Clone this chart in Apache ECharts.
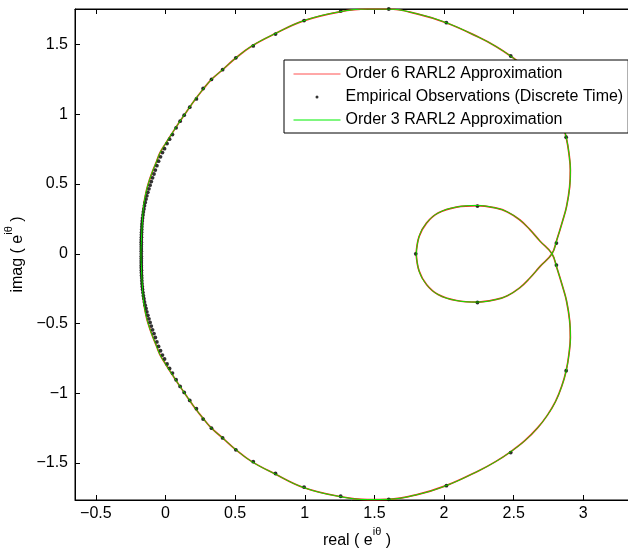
<!DOCTYPE html>
<html>
<head>
<meta charset="utf-8">
<script src="https://cdn.jsdelivr.net/npm/echarts@6/dist/echarts.min.js"></script>
<style>
  html, body { margin: 0; padding: 0; background: #fff; }
  #chart { width: 628px; height: 552px; }
</style>
</head>
<body>
<div id="chart"></div>
<script>
// tick labels
const xTicks = [-0.5, 0, 0.5, 1, 1.5, 2, 2.5, 3];
const yTicks = [-1.5, -1, -0.5, 0, 0.5, 1, 1.5];

// RARL2 approximation curve (order 6 and order 3 overlap)
const order3 = [
  [1.800, 0.000], [1.821, 0.124], [1.874, 0.220], [1.957, 0.292], [2.089, 0.335],
  [2.240, 0.346], [2.376, 0.327], [2.455, 0.300], [2.543, 0.244], [2.615, 0.175],
  [2.690, 0.090], [2.775, 0.000], [2.810, -0.100], [2.854, -0.244], [2.880, -0.340],
  [2.902, -0.480], [2.907, -0.600], [2.897, -0.720], [2.877, -0.838], [2.845, -0.950],
  [2.800, -1.060], [2.740, -1.160], [2.670, -1.250], [2.580, -1.340], [2.480, -1.418],
  [2.370, -1.490], [2.250, -1.555], [2.020, -1.660], [1.800, -1.728], [1.600, -1.760],
  [1.450, -1.762], [1.250, -1.740], [0.990, -1.675], [0.780, -1.575], [0.620, -1.490],
  [0.500, -1.400], [0.410, -1.320], [0.330, -1.250], [0.270, -1.180], [0.210, -1.103],
  [0.151, -1.019], [0.100, -0.945], [0.055, -0.876], [0.000, -0.790], [-0.041, -0.721],
  [-0.065, -0.660], [-0.089, -0.602], [-0.115, -0.530], [-0.136, -0.458], [-0.155, -0.360],
  [-0.165, -0.250], [-0.172, -0.120], [-0.176, 0.000], [-0.172, 0.120], [-0.165, 0.250],
  [-0.155, 0.360], [-0.136, 0.458], [-0.115, 0.530], [-0.089, 0.602], [-0.065, 0.660],
  [-0.041, 0.721], [0.000, 0.790], [0.055, 0.876], [0.100, 0.945], [0.151, 1.019],
  [0.210, 1.103], [0.270, 1.180], [0.330, 1.250], [0.410, 1.320], [0.500, 1.400],
  [0.620, 1.490], [0.780, 1.575], [0.990, 1.670], [1.250, 1.735], [1.450, 1.755],
  [1.600, 1.755], [1.800, 1.722], [2.020, 1.655], [2.250, 1.552], [2.370, 1.488],
  [2.480, 1.416], [2.580, 1.338], [2.670, 1.248], [2.740, 1.158], [2.800, 1.058],
  [2.845, 0.948], [2.877, 0.836], [2.897, 0.720], [2.907, 0.600], [2.902, 0.480],
  [2.880, 0.340], [2.854, 0.244], [2.810, 0.100], [2.775, 0.000], [2.690, -0.090],
  [2.615, -0.175], [2.543, -0.244], [2.455, -0.300], [2.376, -0.327], [2.240, -0.346],
  [2.089, -0.335], [1.957, -0.292], [1.874, -0.220], [1.821, -0.124], [1.800, 0.000]
];
const order6 = order3;

// empirical observations
const obsAxis = [[1.797, 0.000], [-0.174, 0.000]];
const obsUpper = [
  [2.240, 0.342], [2.807, 0.077], [2.877, 0.836], [2.479, 1.418], [2.017, 1.657],
  [1.603, 1.755], [1.258, 1.741], [0.995, 1.672], [0.790, 1.575], [0.630, 1.490],
  [0.505, 1.405], [0.410, 1.320], [0.330, 1.250], [0.270, 1.185], [0.222, 1.110],
  [0.174, 1.051], [0.134, 0.994], [0.105, 0.951], [0.076, 0.903], [0.050, 0.855],
  [0.029, 0.822], [0.011, 0.790], [-0.007, 0.754], [-0.022, 0.726], [-0.036, 0.695],
  [-0.050, 0.664], [-0.062, 0.632], [-0.073, 0.600], [-0.083, 0.572], [-0.093, 0.545],
  [-0.102, 0.518], [-0.111, 0.492], [-0.119, 0.466], [-0.127, 0.441], [-0.134, 0.416],
  [-0.140, 0.392], [-0.146, 0.368], [-0.151, 0.345], [-0.155, 0.322], [-0.159, 0.300],
  [-0.162, 0.278], [-0.165, 0.256], [-0.167, 0.235], [-0.169, 0.214], [-0.170, 0.194],
  [-0.171, 0.174], [-0.172, 0.155], [-0.173, 0.136], [-0.173, 0.118], [-0.174, 0.100],
  [-0.174, 0.083], [-0.174, 0.066], [-0.174, 0.050], [-0.174, 0.034], [-0.174, 0.018]
];
const obsLower = [
  [2.240, -0.349], [2.807, -0.081], [2.877, -0.838], [2.479, -1.425], [2.017, -1.662],
  [1.603, -1.760], [1.258, -1.738], [0.995, -1.672], [0.790, -1.575], [0.630, -1.490],
  [0.505, -1.405], [0.410, -1.320], [0.330, -1.250], [0.270, -1.185], [0.222, -1.110],
  [0.174, -1.051], [0.134, -0.994], [0.105, -0.951], [0.076, -0.903], [0.050, -0.855],
  [0.029, -0.822], [0.011, -0.790], [-0.007, -0.754], [-0.022, -0.726], [-0.036, -0.695],
  [-0.050, -0.664], [-0.062, -0.632], [-0.073, -0.600], [-0.083, -0.572], [-0.093, -0.545],
  [-0.102, -0.518], [-0.111, -0.492], [-0.119, -0.466], [-0.127, -0.441], [-0.134, -0.416],
  [-0.140, -0.392], [-0.146, -0.368], [-0.151, -0.345], [-0.155, -0.322], [-0.159, -0.300],
  [-0.162, -0.278], [-0.165, -0.256], [-0.167, -0.235], [-0.169, -0.214], [-0.170, -0.194],
  [-0.171, -0.174], [-0.172, -0.155], [-0.173, -0.136], [-0.173, -0.118], [-0.174, -0.100],
  [-0.174, -0.083], [-0.174, -0.066], [-0.174, -0.050], [-0.174, -0.034], [-0.174, -0.018]
];

const FONT = 'Liberation Sans';
const fmt = v => String(v).replace('-', '\u2212');

const chart = echarts.init(document.getElementById('chart'), null, { renderer: 'canvas' });

const nameRich = {
  n: { fontFamily: FONT, fontSize: 16, color: '#000', lineHeight: 22, verticalAlign: 'bottom' },
  s: { fontFamily: FONT, fontSize: 11, color: '#000', lineHeight: 14, verticalAlign: 'top' }
};

const axisLineStyle = { show: true, onZero: false, lineStyle: { color: '#000', width: 1 } };

const option = {
  animation: false,
  backgroundColor: '#fff',
  grid: {
    left: 75, top: 9, width: 564, height: 491,
    outerBoundsMode: 'none',
    containLabel: false,
    show: true, borderColor: '#000', borderWidth: 1, backgroundColor: 'transparent'
  },
  legend: {
    orient: 'vertical',
    left: 284, top: 60,
    padding: [5, 5, 4, 9],
    itemGap: 5,
    itemWidth: 47,
    itemHeight: 3,
    z: 10,
    backgroundColor: '#fff',
    borderColor: '#000',
    borderWidth: 1,
    textStyle: { fontFamily: FONT, fontSize: 16, color: '#000', lineHeight: 18 },
    data: [
      { name: 'Order 6 RARL2 Approximation', itemStyle: { opacity: 0 }, lineStyle: { width: 1, color: '#ff5050' } },
      { name: 'Empirical Observations (Discrete Time)', icon: 'circle' },
      { name: 'Order 3 RARL2 Approximation', itemStyle: { opacity: 0 }, lineStyle: { width: 1, color: '#00ee00' } }
    ]
  },
  xAxis: [{
    type: 'value', min: -0.65, max: 3.4,
    name: '{n|real ( e}{s|iθ}{n| )}',
    nameLocation: 'middle', nameGap: 25,
    nameTextStyle: { rich: nameRich },
    axisLine: axisLineStyle,
    axisTick: { show: true, inside: true, length: 5, customValues: xTicks, lineStyle: { color: '#000' } },
    axisLabel: { customValues: xTicks, formatter: fmt, fontFamily: FONT, fontSize: 16, color: '#000', margin: 6 },
    splitLine: { show: false }
  }, {
    type: 'value', min: -0.65, max: 3.4, position: 'top',
    axisLine: axisLineStyle,
    axisTick: { show: true, inside: true, length: 5, customValues: xTicks, lineStyle: { color: '#000' } },
    axisLabel: { show: false },
    splitLine: { show: false }
  }],
  yAxis: [{
    type: 'value', min: -1.765, max: 1.755,
    name: '{n|imag ( e}{s|iθ}{n| )}',
    nameLocation: 'middle', nameGap: 26,
    nameTextStyle: { rich: nameRich },
    axisLine: axisLineStyle,
    axisTick: { show: true, inside: true, length: 5, customValues: yTicks, lineStyle: { color: '#000' } },
    axisLabel: { customValues: yTicks, formatter: fmt, fontFamily: FONT, fontSize: 16, color: '#000', margin: 7 },
    splitLine: { show: false }
  }],
  series: [{
    name: 'Order 6 RARL2 Approximation',
    type: 'line',
    data: order6,
    smooth: 0.4,
    symbol: 'none',
    lineStyle: { color: '#ff2020', width: 1.7 },
    itemStyle: { color: '#ff2020' },
    z: 1
  }, {
    name: 'Empirical Observations (Discrete Time)',
    type: 'scatter',
    data: obsAxis.concat(obsUpper, obsLower),
    symbol: 'circle',
    symbolSize: 3.8,
    itemStyle: { color: '#000' },
    clip: false,
    z: 2
  }, {
    name: 'Order 3 RARL2 Approximation',
    type: 'line',
    data: order3,
    smooth: 0.4,
    symbol: 'none',
    lineStyle: { color: '#00ee00', width: 1 },
    itemStyle: { color: '#00ee00' },
    z: 3
  }]
};

chart.setOption(option);
</script>
</body>
</html>
